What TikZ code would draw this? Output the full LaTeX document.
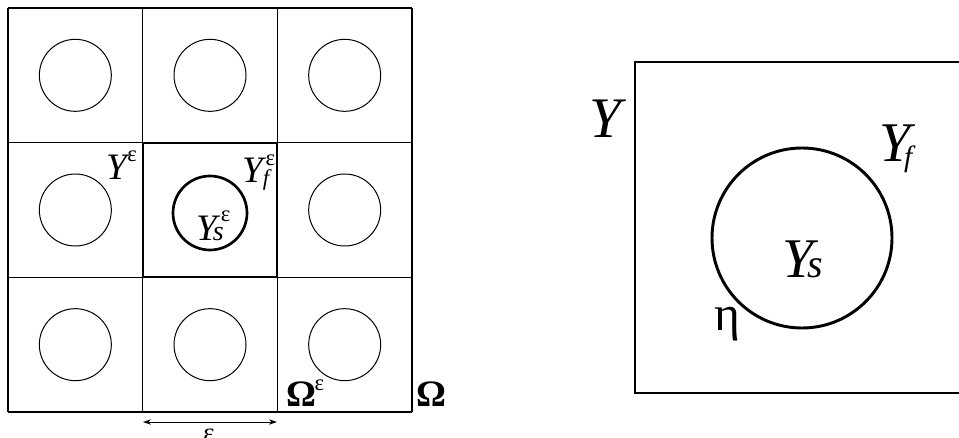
\documentclass[tikz,border=0pt]{standalone}
\usepackage{fontspec}
\setmainfont{LiberationSerif}[Extension=.ttf,UprightFont=*-Regular,ItalicFont=*-Italic,BoldFont=*-Bold,BoldItalicFont=*-BoldItalic]
\usetikzlibrary{arrows.meta}
\newcommand{\fs}[1]{\fontsize{#1}{#1}\selectfont}
\begin{document}
\begin{tikzpicture}[x=0.75pt,y=-0.75pt,
  gridline/.style={line width=0.9pt},
  cellcirc/.style={line width=0.75pt},
  thickline/.style={line width=1.6pt},
  bigline/.style={line width=2.2pt},
  lbl/.style={anchor=base west,inner sep=0pt,outer sep=0pt}]
\useasboundingbox (0,0) rectangle (959,438);
% grid
\foreach \i in {0,1,2,3} {
  \draw[gridline] ({8+134.67*\i},8) -- ({8+134.67*\i},412);
  \draw[gridline] (8,{8+134.67*\i}) -- (412,{8+134.67*\i});
}
\foreach \i in {0,1,2} \foreach \j in {0,1,2} {
  \ifnum\i=1 \ifnum\j=1 \else
    \draw[cellcirc] ({75.33+134.67*\i},{75.33+134.67*\j}) circle (36);
  \fi \else
    \draw[cellcirc] ({75.33+134.67*\i},{75.33+134.67*\j}) circle (36);
  \fi
}
\draw[thickline] (142.67,142.67) rectangle (277.33,277.33);
\draw[line width=2pt] (210,213) circle (37);
% left labels
\node[lbl] (ye) at (106,180) {\fs{28}\itshape Y\kern0.5pt\raisebox{14pt}{\fs{17}\upshape ε}};
\node[lbl] (yf) at (242,183) {\fs{28}\itshape Y\rlap{\raisebox{-2pt}{\fs{17}f}}\kern2.2pt\raisebox{13pt}{\fs{17}\upshape ε}};
\node[lbl] (ys) at (196,240) {\fs{28}\itshape Y\kern-3pt\rlap{\fs{21}s}\kern6pt\raisebox{14pt}{\fs{17}\upshape ε}};
\node[lbl] (om) at (286,406) {\fs{28}\bfseries Ω\kern-1pt\raisebox{12pt}{\mdseries\fs{17}ε}};
\node[lbl] (Om) at (416,406) {\fs{28}\bfseries Ω};
% epsilon arrow
\coordinate (a1) at (143,422);
\coordinate (a2) at (277,422);
\draw[line width=0.75pt,{Stealth[length=6pt,width=4pt]}-{Stealth[length=6pt,width=4pt]}] (a1) -- (a2);
\node[anchor=north,inner sep=0pt] (eps) at (209,429) {\fs{20}ε};
% right panel
\draw[bigline] (635,62) rectangle (975,393);
\draw[bigline] (802,238) circle (90);
\node[lbl] (Y) at (589,138) {\fs{43}\itshape Y};
\node[lbl] (Yf) at (879,162) {\fs{42}\itshape Y\kern-4.5pt\raisebox{-3.75pt}{\fs{22}f}};
\node[lbl] (Ys) at (782,277) {\fs{42}\itshape Y\kern-4.5pt{\fs{30}s}};
\node[lbl] (eta) at (714,330) {\fs{37}η};
\end{tikzpicture}
\end{document}
